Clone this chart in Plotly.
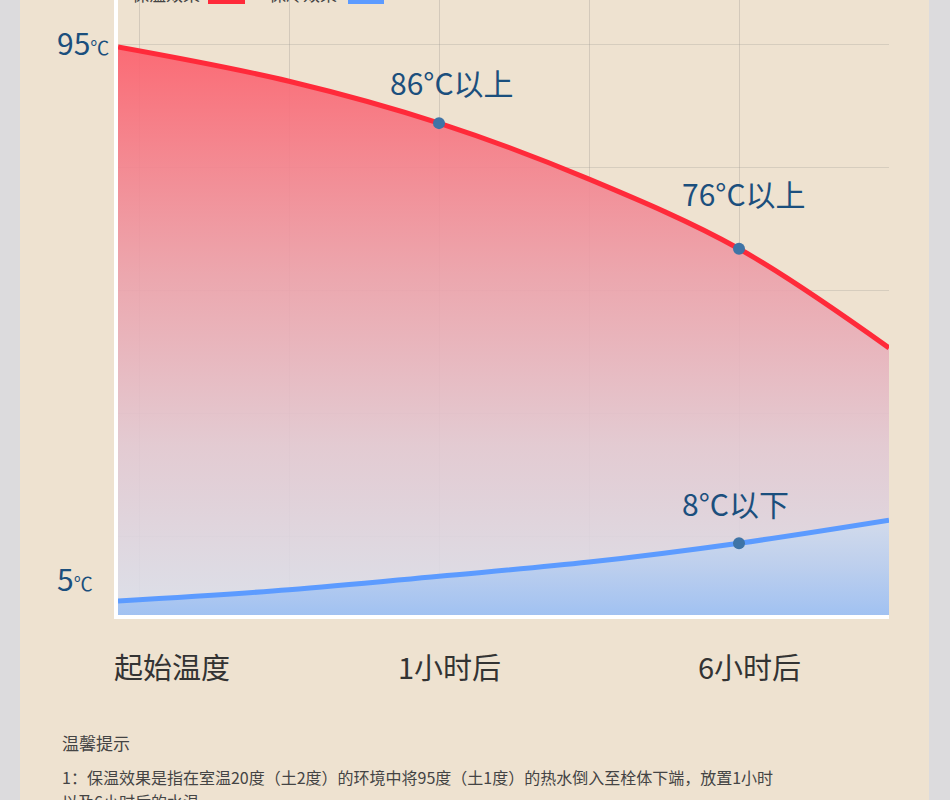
import plotly.graph_objects as go

# ---------------- data (display levels) ----------------
x_pos = [-1.14, 0, 1, 2, 3, 4]                      # horizontal position (1 unit = one grid column)
keep_warm = [95, 89.2, 82.1, 72.6, 60.8, 44.0]       # 保温效果 curve
keep_cold = [1.1, 3.0, 5.3, 7.7, 10.9, 14.8]         # 保冷效果 curve

point_x = [1, 3, 3]
point_y = [82.1, 60.8, 10.9]
point_labels = ["86°C以上", "76°C以上", "8°C以下"]

stage_labels = ["起始温度", "1小时后", "6小时后"]
stage_x = [-1.14, 1, 3]

y_tick_vals = [95, 5]
y_tick_text = ["95", "5"]

legend_names = ["保温效果", "保冷效果"]

note_title = "温馨提示"
note_lines = ["1：保温效果是指在室温20度（土2度）的环境中将95度（土1度）的热水倒入至栓体下端，放置1小时",
              "以及6小时后的水温"]

# ---------------- style ----------------
W, H = 950, 800
RED = "#ff2a3a"
BLUE = "#5c9bff"
DOT = "#3f74a6"
LABEL = "#1b4f7d"
BEIGE = "#eee2d0"
GRAY = "#dcdbdd"
FONT = "Noto Sans CJK SC"

X_RANGE = [-1.14, 4]
Y_RANGE = [-1.27, 102.97]

fig = go.Figure()

base = [Y_RANGE[0]] * len(x_pos)

# red area
fig.add_trace(go.Scatter(x=x_pos, y=base, mode="lines", line=dict(width=0),
                         hoverinfo="skip", showlegend=False))
fig.add_trace(go.Scatter(
    x=x_pos, y=keep_warm, mode="lines", line=dict(color=RED, width=5, shape="spline", smoothing=1),
    fill="tonexty",
    fillgradient=dict(type="vertical",
                      colorscale=[[0, "rgba(218,224,236,0.9)"],
                                  [0.3, "rgba(226,200,210,0.9)"],
                                  [0.6, "rgba(236,160,170,0.9)"],
                                  [1, "rgba(252,98,110,0.93)"]]),
    name=legend_names[0], showlegend=False))

# blue area
fig.add_trace(go.Scatter(x=x_pos, y=base, mode="lines", line=dict(width=0),
                         hoverinfo="skip", showlegend=False))
fig.add_trace(go.Scatter(
    x=x_pos, y=keep_cold, mode="lines", line=dict(color=BLUE, width=5, shape="spline", smoothing=1),
    fill="tonexty",
    fillgradient=dict(type="vertical",
                      colorscale=[[0, "rgba(158,192,242,0.95)"],
                                  [0.5, "rgba(186,206,238,0.95)"],
                                  [1, "rgba(210,219,236,0.95)"]]),
    name=legend_names[1], showlegend=False))

# dots
fig.add_trace(go.Scatter(x=point_x, y=point_y, mode="markers",
                         marker=dict(color=DOT, size=12), showlegend=False, cliponaxis=False))

grid_y = [95.5 - 20.85 * k for k in range(5)]

fig.update_layout(
    width=W, height=H,
    margin=dict(l=0, r=0, t=0, b=0),
    paper_bgcolor=GRAY,
    plot_bgcolor="rgba(0,0,0,0)",
    font=dict(family=FONT),
    showlegend=False,
    xaxis=dict(domain=[118 / W, 889 / W], range=X_RANGE, showticklabels=False,
               tick0=0, dtick=1, showgrid=True, gridcolor="rgba(160,155,150,0.35)", gridwidth=1,
               zeroline=False, showline=True, linecolor="white", linewidth=4, mirror=False),
    yaxis=dict(domain=[(H - 615) / H, 1], range=Y_RANGE, showticklabels=False,
               tickvals=grid_y, showgrid=True, gridcolor="rgba(160,155,150,0.3)", gridwidth=1,
               zeroline=False, showline=True, linecolor="white", linewidth=4),
    shapes=[
        dict(type="rect", xref="paper", yref="paper", x0=20 / W, x1=929 / W, y0=0, y1=1,
             fillcolor=BEIGE, line=dict(width=0), layer="below"),
        dict(type="rect", xref="paper", yref="paper", x0=208 / W, x1=245 / W,
             y0=1 - 4 / H, y1=1 + 10 / H, fillcolor=RED, line=dict(width=0)),
        dict(type="rect", xref="paper", yref="paper", x0=348 / W, x1=384 / W,
             y0=1 - 4 / H, y1=1 + 10 / H, fillcolor=BLUE, line=dict(width=0)),
    ],
)

ann = []
# point labels
offsets = [(13, 41), (5, 56), (-4, 40)]
for (px, py, t), (dx, dy) in zip(zip(point_x, point_y, point_labels), offsets):
    ann.append(dict(x=px, y=py, xref="x", yref="y", text=t, showarrow=False,
                    xanchor="center", yanchor="middle", xshift=dx, yshift=dy,
                    font=dict(size=30, color=LABEL, family=FONT)))
# y labels
for v, t, dy in zip(y_tick_vals, y_tick_text, [5, 0]):
    ann.append(dict(x=55 / W, y=v, xref="paper", yref="y",
                    text=t + "<span style='font-size:19px'>℃</span>", showarrow=False,
                    xanchor="left", yanchor="middle", yshift=dy,
                    font=dict(size=30, color=LABEL, family=FONT)))
# stage labels
for sx, t, dx in zip(stage_x, stage_labels, [54, 10, 10]):
    ann.append(dict(x=sx, y=(H - 666) / H, xref="x", yref="paper", text=t, showarrow=False,
                    xanchor="center", yanchor="middle", xshift=dx,
                    font=dict(size=29, color="#333333", family=FONT)))
# legend texts (mostly cut off at the top, as in the reference)
for t, lx in zip(legend_names, [130, 267]):
    ann.append(dict(x=lx / W, y=1 + 6 / H, xref="paper", yref="paper", text=t, showarrow=False,
                    xanchor="left", yanchor="middle",
                    font=dict(size=17, color="#444444", family=FONT)))
# notes
ann.append(dict(x=60 / W, y=(H - 742) / H, xref="paper", yref="paper", text=note_title,
                showarrow=False, xanchor="left", yanchor="middle",
                font=dict(size=17, color="#444444", family=FONT)))
for i, line in enumerate(note_lines):
    ann.append(dict(x=60 / W, y=(H - 777 - 24 * i) / H, xref="paper", yref="paper", text=line,
                    showarrow=False, xanchor="left", yanchor="middle",
                    font=dict(size=16, color="#444444", family=FONT)))

fig.update_layout(annotations=ann)
fig.write_html("out.html", config={"displayModeBar": False},
               post_script="document.body.style.margin='0';document.body.style.overflow='hidden';")
